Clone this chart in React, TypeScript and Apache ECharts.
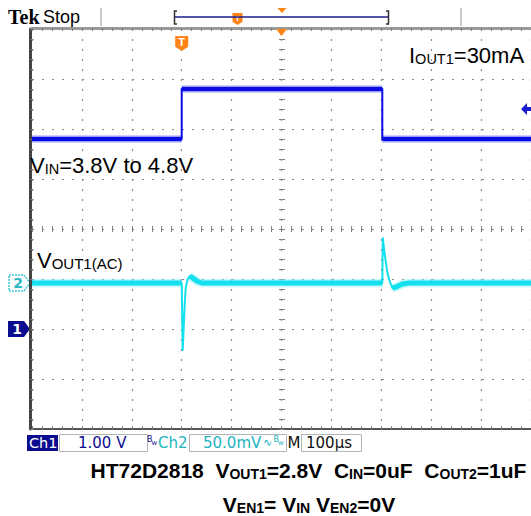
import React, { useEffect, useRef } from 'react';
import * as echarts from 'echarts';

// ---- scope settings ----
const timeMinUs = -500;
const timeMaxUs = 500;
const timePerDivUs = 100;
const divMin = -4;
const divMax = 4;
const ch1VoltsPerDiv = 1.0;
const ch2mVPerDiv = 50;
const ch1OffsetDiv = -2;
const ch2OffsetDiv = -1.08;
const triggerTimeUs = -200;
const triggerLevelV = 4.4;

// ---- waveforms ----
const ch1TimeUs = [-500, -200, -200, 202, 202, 500];
const ch1Volts = [3.8, 3.8, 4.8, 4.8, 3.8, 3.8];
const ch2TimeUs = [-500, -200, -198, -196, -194, -192, -188, -184, -178, -170, -160, 202, 203, 207, 212, 216, 222, 230, 242, 256, 500];
const ch2mV = [0, 0, -67, -45, -22, -5, 4, 7, 5, 2, 0, 0, 45, 28, 11, 3, -5, -4, -1, 0, 0];

// ---- labels ----
const ch1ScaleLabel = '1.00 V';
const ch2ScaleLabel = '50.0mV';
const timebaseLabel = '100µs';

const SANS = '"Liberation Sans", Arial, sans-serif';
const DEJA = '"DejaVu Sans", sans-serif';
const BLUE = '#0a0ae6';
const CYAN = '#12e0ee';
const NAVY = '#0c0c8e';
const ORANGE = '#ff8417';
const STAT_CYAN = '#22b4c2';

const GRID_W = 500;
const pxPerUs = 50 / timePerDivUs;
const pxPerDiv = 50;

function splitFlat(pts: any[][]) {
  const out: any[] = [];
  let lastEnd: any = null;
  for (let i = 0; i < pts.length - 1; i++) {
    const a = pts[i], b = pts[i + 1];
    const dx = Math.abs(b[0] - a[0]) * pxPerUs;
    const dy = Math.abs(b[1] - a[1]) * pxPerDiv;
    if (dy <= 1.2 * dx + 0.5) {
      if (lastEnd !== a) {
        if (out.length) out.push([a[0], '-']);
        out.push(a);
      }
      out.push(b);
      lastEnd = b;
    }
  }
  return out;
}

export default function App() {
  const ref = useRef<HTMLDivElement>(null);
  useEffect(() => {
    if (!ref.current) return;
    const chart = echarts.init(ref.current, null, { renderer: 'svg' });

    const ch1 = ch1TimeUs.map((t, i) => [t, ch1Volts[i] / ch1VoltsPerDiv + ch1OffsetDiv]);
    const ch2 = ch2TimeUs.map((t, i) => [t, ch2mV[i] / ch2mVPerDiv + ch2OffsetDiv]);
    const ch1Flat = splitFlat(ch1);
    const ch2Flat = splitFlat(ch2);

    const dotted = { color: '#8c8c8c', width: 1.2, type: [2, 8] as any };
    const tickStyle = { color: '#808080', width: 1 };
    const xBase = { type: 'value', min: timeMinUs, max: timeMaxUs, interval: timePerDivUs, gridIndex: 0, axisLabel: { show: false } };
    const yBase = { type: 'value', min: divMin, max: divMax, interval: 1, gridIndex: 0, axisLabel: { show: false } };
    const ticks = (inside: boolean, len: number) => ({
      axisTick: { show: true, inside, length: len, lineStyle: tickStyle },
      minorTick: { show: true, splitNumber: 5, length: len, lineStyle: tickStyle },
    });

    const line = (data: any[], width: number, color: string, opacity = 1, z = 3) => ({
      type: 'line', data, symbol: 'none', showSymbol: false, silent: true, z,
      xAxisIndex: 0, yAxisIndex: 0, connectNulls: false,
      lineStyle: { width, color, opacity, join: 'round', cap: 'butt' },
    });

    chart.setOption({
      animation: false,
      backgroundColor: '#ffffff',
      grid: { left: 32, top: 29, width: GRID_W, height: 400, show: false },
      xAxis: [
        { ...xBase, position: 'bottom', axisLine: { show: true, onZero: false, lineStyle: { color: '#555', width: 2 } }, ...ticks(true, 3), splitLine: { show: true, lineStyle: dotted } },
        { ...xBase, position: 'top', offset: 1, axisLine: { show: true, onZero: false, lineStyle: { color: '#9a9a9a', width: 3 } }, ...ticks(true, 3), splitLine: { show: false } },
        { ...xBase, position: 'bottom', axisLine: { show: false, onZero: true, onZeroAxisIndex: 0 }, ...ticks(true, 3), splitLine: { show: false } },
        { ...xBase, position: 'bottom', axisLine: { show: false, onZero: true, onZeroAxisIndex: 0 }, ...ticks(false, 3), splitLine: { show: false } },
      ],
      yAxis: [
        { ...yBase, position: 'left', offset: 1.5, axisLine: { show: true, onZero: false, lineStyle: { color: '#444', width: 3 } }, ...ticks(true, 3), splitLine: { show: true, lineStyle: dotted } },
        { ...yBase, position: 'left', offset: -GRID_W / 2, axisLine: { show: false, onZero: false }, ...ticks(true, 3), splitLine: { show: false } },
        { ...yBase, position: 'left', offset: -GRID_W / 2, axisLine: { show: false, onZero: false }, ...ticks(false, 3), splitLine: { show: false } },
      ],
      series: [
        line(ch1Flat, 8, '#6a78f2', 0.35, 2),
        line(ch1, 2, BLUE, 1, 3),
        line(ch1Flat, 4.5, BLUE, 1, 4),
        line(ch2Flat, 8.5, '#7ff0f6', 0.45, 2),
        line(ch2, 2, CYAN, 1, 3),
        line(ch2Flat, 5, CYAN, 1, 4),
      ],
    });

    const px = (t: number, d: number) => chart.convertToPixel({ xAxisIndex: 0, yAxisIndex: 0 }, [t, d]) as number[];
    const [, y2] = px(0, ch2OffsetDiv);
    const [, y1] = px(0, ch1OffsetDiv);
    const [tx] = px(triggerTimeUs, 0);
    const [, yTrig] = px(0, triggerLevelV / ch1VoltsPerDiv + ch1OffsetDiv);
    const [cx, topY] = px(0, divMax);

    const text = (x: number, y: number, t: string, font: string, fill: string, extra: any = {}) => ({
      type: 'text', x, y, z: 10, silent: true,
      style: { text: t, font, fill, align: 'left', verticalAlign: 'middle', ...extra },
    });
    const richPlot = (main: number, sub: number, L: number, h: number, weight = 'normal') => ({
      a: { fontSize: main, fontFamily: SANS, fontWeight: weight, lineHeight: L, verticalAlign: 'bottom', color: '#111' },
      s: { fontSize: sub, fontFamily: SANS, fontWeight: weight, lineHeight: h, verticalAlign: 'bottom', color: '#111' },
    });
    const captionRich = (L: number, h: number) => ({
      a: { fontSize: 21, fontWeight: 'bold', fontFamily: SANS, lineHeight: L, verticalAlign: 'bottom', color: '#1a1a1a' },
      s: { fontSize: 14, fontWeight: 'bold', fontFamily: SANS, lineHeight: h, verticalAlign: 'bottom', color: '#1a1a1a' },
    });
    const shield = (x: number, top: number, w: number, h: number) => ({
      type: 'group', z: 10, silent: true,
      children: [
        { type: 'polygon', shape: { points: [[x - w / 2, top], [x + w / 2, top], [x + w / 2, top + h * 0.72], [x, top + h], [x - w / 2, top + h * 0.72]] }, style: { fill: ORANGE } },
        { type: 'text', x, y: top + h * 0.42, style: { text: 'T', font: `bold ${Math.round(h * 0.7)}px ${SANS}`, fill: '#fff', align: 'center', verticalAlign: 'middle' } },
      ],
    });

    const graphic: any[] = [
      // top status line
      text(8, 17, 'Tek', `bold 20px "Liberation Serif", serif`, '#000'),
      text(43, 17, 'Stop', `18px ${SANS}`, '#000'),
      { type: 'line', z: 10, shape: { x1: 101, y1: 8, x2: 101, y2: 26 }, style: { stroke: '#c8c8c8', lineWidth: 2 } },
      { type: 'line', z: 10, shape: { x1: 461, y1: 8, x2: 461, y2: 26 }, style: { stroke: '#c8c8c8', lineWidth: 2 } },
      { type: 'line', z: 10, shape: { x1: 175, y1: 17, x2: 389, y2: 17 }, style: { stroke: '#1a1a8c', lineWidth: 1.5 } },
      { type: 'polyline', z: 10, shape: { points: [[177, 11], [174.5, 11], [174.5, 24], [177, 24]] }, style: { stroke: '#333', lineWidth: 1.5, fill: null } },
      { type: 'polyline', z: 10, shape: { points: [[386, 11], [388.5, 11], [388.5, 24], [386, 24]] }, style: { stroke: '#333', lineWidth: 1.5, fill: null } },
      shield(237.5, 13, 10, 12),
      { type: 'polygon', z: 10, shape: { points: [[277.5, 8], [286.5, 8], [282, 13]] }, style: { fill: ORANGE } },
      // in-plot markers
      { type: 'polygon', z: 10, shape: { points: [[cx - 5.5, topY], [cx + 5.5, topY], [cx, topY + 7]] }, style: { fill: ORANGE } },
      shield(tx, 36, 13, 15),
      // ch markers
      {
        type: 'group', z: 10, children: [
          { type: 'polygon', shape: { points: [[9, y2 - 8], [24, y2 - 8], [30, y2], [24, y2 + 8], [9, y2 + 8]] }, style: { fill: '#fff', stroke: '#3cc8d4', lineWidth: 1.5, lineDash: [2, 1] } },
          { type: 'text', x: 18, y: y2, style: { text: '2', font: `bold 14px ${DEJA}`, fill: '#2ab8c6', align: 'center', verticalAlign: 'middle' } },
        ],
      },
      {
        type: 'group', z: 10, children: [
          { type: 'polygon', shape: { points: [[8, y1 - 8], [24, y1 - 8], [30, y1], [24, y1 + 8], [8, y1 + 8]] }, style: { fill: NAVY } },
          { type: 'text', x: 17, y: y1, style: { text: '1', font: `bold 14px ${DEJA}`, fill: '#fff', align: 'center', verticalAlign: 'middle' } },
        ],
      },
      { type: 'polygon', z: 10, shape: { points: [[521, yTrig], [527, yTrig - 6], [527, yTrig - 2], [531, yTrig - 2], [531, yTrig + 2], [527, yTrig + 2], [527, yTrig + 6]] }, style: { fill: '#1a1ad0' } },
      // annotations
      { type: 'text', x: 409, y: 52, z: 10, style: { text: '{a|I}{s|OUT1}{a|=30mA}', rich: richPlot(22, 14.5, 28, 14), align: 'left', verticalAlign: 'middle' } },
      { type: 'text', x: 30, y: 162, z: 10, style: { text: '{a|V}{s|IN}{a|=3.8V to 4.8V}', rich: richPlot(22, 14.5, 28, 14), align: 'left', verticalAlign: 'middle' } },
      { type: 'text', x: 37, y: 258, z: 10, style: { text: '{a|V}{s|OUT1(AC)}', rich: richPlot(22, 15, 26, 14), align: 'left', verticalAlign: 'middle' } },
      // bottom status bar
      { type: 'rect', z: 10, shape: { x: 27, y: 435, width: 31, height: 16 }, style: { fill: NAVY } },
      text(29, 443, 'Ch1', `14.5px ${DEJA}`, '#fff'),
      { type: 'rect', z: 10, shape: { x: 59.5, y: 434.5, width: 88, height: 17 }, style: { fill: null, stroke: '#b4b4b4', lineWidth: 1 } },
      text(78, 443, ch1ScaleLabel, `15px ${DEJA}`, NAVY),
      text(147, 439, 'B', `8px ${DEJA}`, NAVY),
      text(151.5, 443, 'w', `7px ${DEJA}`, NAVY),
      text(158, 443, 'Ch2', `15px ${DEJA}`, STAT_CYAN),
      { type: 'rect', z: 10, shape: { x: 189.5, y: 434.5, width: 97, height: 17 }, style: { fill: null, stroke: '#b4b4b4', lineWidth: 1 } },
      text(203, 443, ch2ScaleLabel, `15px ${DEJA}`, STAT_CYAN),
      text(263, 442, '∿', `11px ${DEJA}`, STAT_CYAN),
      text(273.5, 439, 'B', `8px ${DEJA}`, STAT_CYAN),
      text(278, 443, 'w', `7px ${DEJA}`, STAT_CYAN),
      text(287.5, 443, 'M', `15px ${DEJA}`, '#111'),
      { type: 'rect', z: 10, shape: { x: 301.5, y: 434.5, width: 60, height: 17 }, style: { fill: null, stroke: '#b4b4b4', lineWidth: 1 } },
      text(306, 443, timebaseLabel, `15px ${DEJA}`, '#111'),
      // captions
      {
        type: 'text', x: 308.5, y: 470, z: 10,
        style: {
          text: '{a|HT72D2818  V}{s|OUT1}{a|=2.8V  C}{s|IN}{a|=0uF  C}{s|OUT2}{a|=1uF}',
          rich: captionRich(22, 14), align: 'center', verticalAlign: 'middle',
        },
      },
      {
        type: 'text', x: 309, y: 505, z: 10,
        style: {
          text: '{a|V}{s|EN1}{a|= V}{s|IN}{a| V}{s|EN2}{a|=0V}',
          rich: captionRich(20, 13), align: 'center', verticalAlign: 'middle',
        },
      },
    ];
    chart.setOption({ graphic });

    return () => chart.dispose();
  }, []);
  return <div ref={ref} style={{ position: 'absolute', left: 0, top: 0, width: 531, height: 516 }} />;
}
